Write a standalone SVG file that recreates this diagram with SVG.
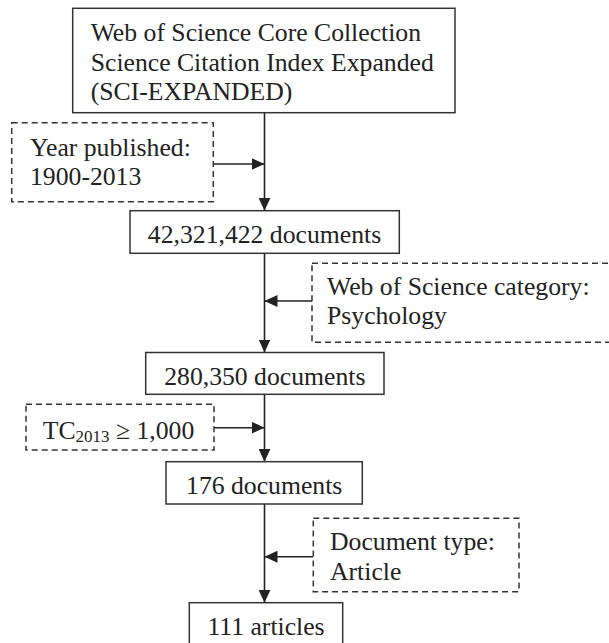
<svg xmlns="http://www.w3.org/2000/svg" width="609" height="643" viewBox="0 0 609 643">
<style>
  .box { fill: #ffffff; stroke: #333333; stroke-width: 1.5; }
  .dbox { fill: #ffffff; stroke: #333333; stroke-width: 1.5; stroke-dasharray: 6 4; }
  .t { font-family: "Liberation Serif", "Times New Roman", serif; font-size: 25.7px; fill: #222222; }
  .c { text-anchor: middle; }
  .conn { stroke: #222222; stroke-width: 1.6; fill: none; }
</style>
<defs>
  <marker id="ah" markerUnits="userSpaceOnUse" markerWidth="13" markerHeight="12" refX="13" refY="6" orient="auto">
    <path d="M0,0 L13,6 L0,12 z" fill="#222222"/>
  </marker>
</defs>
<rect width="609" height="643" fill="#ffffff"/>
<g id="connectors">
  <line class="conn" x1="264.5" y1="112.7" x2="264.5" y2="210.7" marker-end="url(#ah)"/>
  <line class="conn" x1="213.3" y1="164" x2="264.5" y2="164" marker-end="url(#ah)"/>
  <line class="conn" x1="264.5" y1="253.3" x2="264.5" y2="352.5" marker-end="url(#ah)"/>
  <line class="conn" x1="312" y1="301" x2="264.5" y2="301" marker-end="url(#ah)"/>
  <line class="conn" x1="264.5" y1="394.3" x2="264.5" y2="461.7" marker-end="url(#ah)"/>
  <line class="conn" x1="214" y1="427.7" x2="264.5" y2="427.7" marker-end="url(#ah)"/>
  <line class="conn" x1="264.5" y1="504" x2="264.5" y2="602.7" marker-end="url(#ah)"/>
  <line class="conn" x1="313.3" y1="556.7" x2="264.5" y2="556.7" marker-end="url(#ah)"/>
</g>
<g id="wos">
  <rect class="box" x="72.7" y="8.3" width="382.3" height="104.4"/>
  <text class="t" x="90.7" y="41">Web of Science Core Collection</text>
  <text class="t" x="90.7" y="70.5">Science Citation Index Expanded</text>
  <text class="t" x="90.7" y="100">(SCI-EXPANDED)</text>
</g>
<g id="filter-year">
  <rect class="dbox" x="11.7" y="122.7" width="201.6" height="79"/>
  <text class="t" x="30" y="156">Year published:</text>
  <text class="t" x="30" y="185">1900-2013</text>
</g>
<g id="n42m">
  <rect class="box" x="130" y="210.7" width="269.3" height="42.6"/>
  <text class="t c" x="264.5" y="243.3">42,321,422 documents</text>
</g>
<g id="filter-category">
  <rect class="dbox" x="312" y="263.3" width="310" height="79"/>
  <text class="t" x="327" y="295">Web of Science category:</text>
  <text class="t" x="327" y="323.5">Psychology</text>
</g>
<g id="n280k">
  <rect class="box" x="145.7" y="352.5" width="238.3" height="41.8"/>
  <text class="t c" x="264.8" y="385">280,350 documents</text>
</g>
<g id="filter-tc">
  <rect class="dbox" x="26" y="404.3" width="188" height="45.7"/>
  <text class="t" x="42.7" y="439">TC<tspan font-size="17" dy="2.5">2013</tspan><tspan dy="-2.5"> ≥ 1,000</tspan></text>
</g>
<g id="n176">
  <rect class="box" x="166" y="461.7" width="196.3" height="42.3"/>
  <text class="t c" x="264.2" y="494">176 documents</text>
</g>
<g id="filter-type">
  <rect class="dbox" x="313.3" y="518.3" width="205.7" height="73.4"/>
  <text class="t" x="330" y="550">Document type:</text>
  <text class="t" x="330" y="580">Article</text>
</g>
<g id="n111">
  <rect class="box" x="189.3" y="602.7" width="153.4" height="50"/>
  <text class="t c" x="266" y="635">111 articles</text>
</g>
</svg>
